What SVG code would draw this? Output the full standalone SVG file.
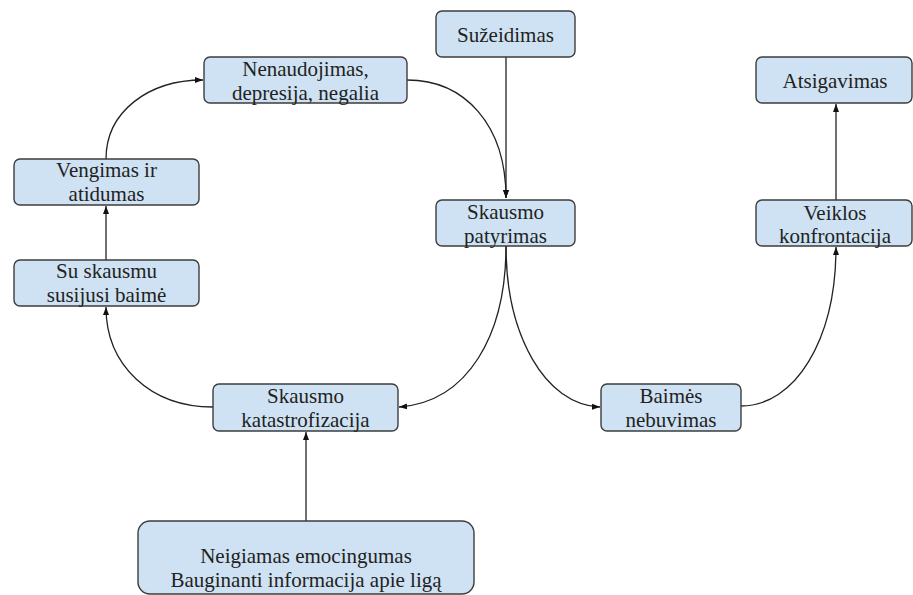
<svg xmlns="http://www.w3.org/2000/svg" width="913" height="595" viewBox="0 0 913 595" font-family="Liberation Serif, DejaVu Serif, serif">
<defs>
<style>
.box{fill:#cfe2f3;stroke:#3d3d3d;stroke-width:1.4}
.t{font-size:21px;fill:#222;text-anchor:middle}
.c{fill:none;stroke:#222;stroke-width:1.3;marker-end:url(#ah)}
</style>
<marker id="ah" markerUnits="userSpaceOnUse" markerWidth="8" markerHeight="8" viewBox="0 0 8 8" refX="8" refY="4" orient="auto">
<path d="M0,1 L8,4 L0,7 Z" fill="#111"/>
</marker>
</defs>
<rect width="913" height="595" fill="#fff"/>
<g id="connectors">
<path class="c" d="M407,80 C465,80 506,125 506,198"/>
<path class="c" d="M506,57 L506,198"/>
<path class="c" d="M506,246 C506,335 468,402 399,407"/>
<path class="c" d="M506,246 C506,335 545,405 600,407"/>
<path class="c" d="M213,407 C150,407 106,365 106,307"/>
<path class="c" d="M106,260 L106,206"/>
<path class="c" d="M106,159 C106,112 148,80 203,80"/>
<path class="c" d="M741,406 C795,406 836,340 836,247"/>
<path class="c" d="M836,200 C836,160 836,135 836,104"/>
<path class="c" d="M306,521 L306,432"/>
</g>
<g id="n-suzeidimas"><rect class="box" x="436" y="11" width="139" height="46" rx="6"/><text class="t" x="505.5" y="42">Sužeidimas</text></g>
<g id="n-nenaudojimas"><rect class="box" x="204" y="57" width="203" height="46" rx="6"/><text class="t" x="305.5" y="76">Nenaudojimas,</text><text class="t" x="305.5" y="100">depresija, negalia</text></g>
<g id="n-patyrimas"><rect class="box" x="436" y="200" width="139" height="46" rx="6"/><text class="t" x="505.5" y="219">Skausmo</text><text class="t" x="505.5" y="243">patyrimas</text></g>
<g id="n-vengimas"><rect class="box" x="14" y="159" width="185" height="46" rx="6"/><text class="t" x="106.5" y="177">Vengimas ir</text><text class="t" x="106.5" y="201">atidumas</text></g>
<g id="n-baime"><rect class="box" x="14" y="260" width="185" height="46" rx="6"/><text class="t" x="106.5" y="278">Su skausmu</text><text class="t" x="106.5" y="302">susijusi baimė</text></g>
<g id="n-katastrofizacija"><rect class="box" x="213" y="384" width="185" height="47" rx="6"/><text class="t" x="305.5" y="403">Skausmo</text><text class="t" x="305.5" y="427">katastrofizacija</text></g>
<g id="n-nebuvimas"><rect class="box" x="601" y="384" width="140" height="47" rx="6"/><text class="t" x="671" y="403">Baimės</text><text class="t" x="671" y="427">nebuvimas</text></g>
<g id="n-atsigavimas"><rect class="box" x="756" y="57" width="156" height="46" rx="6"/><text class="t" x="835" y="88">Atsigavimas</text></g>
<g id="n-konfrontacija"><rect class="box" x="756" y="200" width="156" height="46" rx="6"/><text class="t" x="835" y="220">Veiklos</text><text class="t" x="835" y="243">konfrontacija</text></g>
<g id="n-neigiamas"><rect class="box" x="138" y="521" width="336" height="73" rx="12"/><text class="t" x="306" y="563">Neigiamas emocingumas</text><text class="t" x="306" y="587">Bauginanti informacija apie ligą</text></g>
</svg>
